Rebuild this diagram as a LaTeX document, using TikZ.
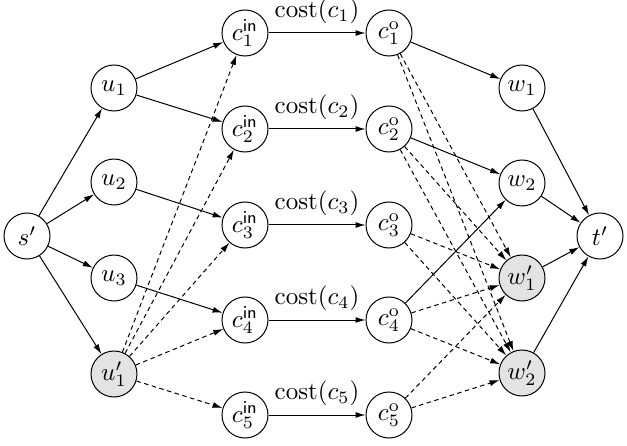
\documentclass[tikz,border=0pt]{standalone}
\usetikzlibrary{arrows.meta}

\begin{document}
\begin{tikzpicture}[
    x=0.4pt, y=-0.4pt,
    vertex/.style={draw, circle, minimum size=18.4pt, inner sep=0pt},
    extra/.style={vertex, fill=black!11},
    arrow/.style={->, >={Latex[length=4pt,width=2.4pt]}},
    dasharrow/.style={arrow, dash pattern=on 1.8pt off 1.4pt}
]
\useasboundingbox (0,0) rectangle (627,446);

% Source and first layer
\node[vertex] (s) at (27,236) {$s'$};
\node[vertex] (u1) at (114,88) {$u_1$};
\node[vertex] (u2) at (114,182) {$u_2$};
\node[vertex] (u3) at (114,278) {$u_3$};
\node[extra] (ux) at (114,374) {$u'_1$};

% Clause nodes (in / out)
\foreach \i/\y in {1/33,2/129,3/225,4/320,5/415} {
    \node[vertex] (cin\i) at (245,\y) {$c_{\i}^{\mathsf{in}}$};
    \node[vertex] (co\i) at (389,\y) {$c_{\i}^{\mathrm{o}}$};
    \draw[arrow] (cin\i) -- node[above] {$\mathrm{cost}(c_{\i})$} (co\i);
}

% Last layer and sink
\node[vertex] (w1) at (522,88) {$w_1$};
\node[vertex] (w2) at (522,183) {$w_2$};
\node[extra] (wx1) at (522,278) {$w'_1$};
\node[extra] (wx2) at (522,373) {$w'_2$};
\node[vertex] (t) at (600,236) {$t'$};

% Solid arrows
\foreach \a/\b in {s/u1, s/u2, s/u3, s/ux, u1/cin1, u1/cin2, u2/cin3, u3/cin4,
                   co1/w1, co2/w2, co4/w2, w1/t, w2/t, wx1/t, wx2/t}
    \draw[arrow] (\a) -- (\b);

% Dashed arrows
\foreach \i in {1,...,5} {
    \draw[dasharrow] (ux) -- (cin\i);
    \draw[dasharrow] (co\i) -- (wx1);
    \draw[dasharrow] (co\i) -- (wx2);
}

\end{tikzpicture}
\end{document}
